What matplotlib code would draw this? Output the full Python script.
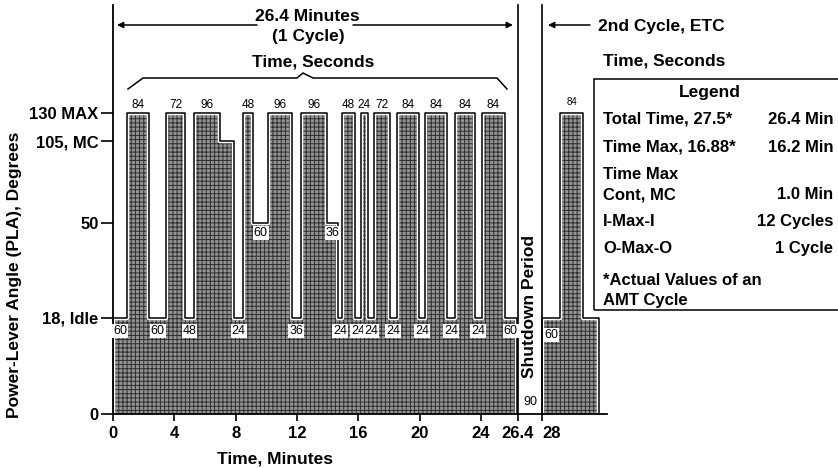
import matplotlib
matplotlib.use('Agg')
import matplotlib.pyplot as plt
from matplotlib.lines import Line2D
from matplotlib.patches import Rectangle
import numpy as np

plt.rcParams['font.family'] = ['Liberation Sans', 'DejaVu Sans']
plt.rcParams['font.weight'] = 'bold'
plt.rcParams['hatch.linewidth'] = 0.7

# first cycle: edge times (min) and PLA level (deg) held from each edge to the next
cycle_t = [0, 0.93, 2.37, 3.46, 4.70, 5.28, 6.98, 7.89, 8.50, 9.15, 10.13, 11.66, 12.24,
           13.94, 14.70, 14.92, 15.79, 16.18, 16.61, 17.03, 18.07, 18.51, 19.98, 20.35,
           21.77, 22.31, 23.61, 24.05, 25.57, 26.33]
cycle_pla = [18, 130, 18, 130, 18, 130, 105, 18, 130, 50, 130, 18, 130, 50, 18, 130, 18,
             130, 18, 130, 18, 130, 18, 130, 18, 130, 18, 130, 18]
# seconds at max (above pulses), at idle (below), at 50 deg
max_sec = [84, 72, 96, 48, 96, 96, 48, 24, 72, 84, 84, 84, 84]
idle_sec = [60, 60, 48, 24, 36, 24, 24, 24, 24, 24, 24, 24, 60]
mid_sec = [60, 36]

# second cycle (start only)
cycle2_t = [28.0, 29.16, 30.68, 31.7]
cycle2_pla = [18, 130, 18]
cycle2_sec = [60, 84]
shutdown = (26.4, 28.0)
shutdown_sec = 90

ytick_vals = [0, 18, 50, 105, 130]
ytick_txt = ['0', '18, Idle', '50', '105, MC', '130 MAX']
xtick_vals = [0, 4, 8, 12, 16, 20, 24, 26.4, 28]
xtick_txt = ['0', '4', '8', '12', '16', '20', '24', '26.4', '28']

legend_rows = [('Total Time, 27.5*', '26.4 Min'),
               ('Time Max, 16.88*', '16.2 Min'),
               ('Time Max', ''),
               ('Cont, MC', '1.0 Min'),
               ('I-Max-I', '12 Cycles'),
               ('O-Max-O', '1 Cycle'),
               ('*Actual Values of an', ''),
               ('AMT Cycle', '')]

# the drawing's PLA axis is not linear, piecewise mapping
deg_nodes = [0, 18, 50, 105, 130, 226]
pos_nodes = [0, 96, 191, 273, 301, 409]
fwd = lambda v: np.interp(v, deg_nodes, pos_nodes)
inv = lambda v: np.interp(v, pos_nodes, deg_nodes)

W, H = 838, 468
def fpx(x, y):
    return x / W, 1 - y / H

def outline(t, lv):
    xs, ys = [t[0]], [0]
    for i, v in enumerate(lv):
        xs += [t[i], t[i + 1]]
        ys += [v, v]
    xs.append(t[-1])
    ys.append(0)
    return xs, ys

fig = plt.figure(figsize=(W / 100, H / 100), dpi=100)
ax = fig.add_axes([113 / W, 54 / H, 493.6 / W, 409 / H])
ax.set_yscale('function', functions=(fwd, inv))
ax.set_xlim(0, 32.2)
ax.set_ylim(0, 226)
for s in ['top', 'right']:
    ax.spines[s].set_visible(False)
for s in ['left', 'bottom']:
    ax.spines[s].set_linewidth(1.3)
ax.set_yticks(ytick_vals)
ax.set_yticklabels(ytick_txt)
ax.set_xticks(xtick_vals)
ax.set_xticklabels(xtick_txt)
ax.yaxis.set_minor_locator(matplotlib.ticker.NullLocator())
ax.tick_params(axis='y', length=9, width=1.2, pad=1.5, labelsize=12)
ax.tick_params(axis='x', length=5, width=1.2, pad=4, labelsize=12)
ax.get_xticklabels()[-1].set_horizontalalignment('left')

for t, lv in [(cycle_t, cycle_pla), (cycle2_t, cycle2_pla)]:
    xs, ys = outline(t, lv)
    ax.fill(xs, ys, facecolor='#939393', edgecolor='#2e2e2e', hatch='++++', lw=0, zorder=1.5)
    ax.plot(xs, ys, color='white', lw=3.2, zorder=2.1)
    ax.plot(xs, ys, color='black', lw=1.1, zorder=3)

# cycle boundaries
for xv in shutdown:
    ax.plot([xv, xv], [0, 226], color='black', lw=1.2, clip_on=False, zorder=3)

lab_box = dict(boxstyle='square,pad=0.08', fc='white', ec='none')
segs = list(zip(cycle_t[:-1], cycle_t[1:], cycle_pla))
maxs = [s for s in segs if s[2] == 130]
idles = [s for s in segs if s[2] == 18]
mids = [s for s in segs if s[2] == 50]
for (a, b, _), v in zip(maxs, max_sec):
    ax.annotate(str(v), ((a + b) / 2, 130), xytext=(0, 3.5), textcoords='offset points',
                ha='center', va='baseline', fontsize=8.5, fontweight='normal')
for (a, b, _), v in zip(idles, idle_sec):
    ax.annotate(str(v), ((a + b) / 2, 18), xytext=(0, -9), textcoords='offset points',
                ha='center', va='center', fontsize=9, fontweight='normal', bbox=lab_box, zorder=5)
for (a, b, _), v in zip(mids, mid_sec):
    ax.annotate(str(v), ((a + b) / 2, 50), xytext=(0, -7), textcoords='offset points',
                ha='center', va='center', fontsize=9, fontweight='normal', bbox=lab_box, zorder=5)
ax.annotate(str(cycle2_sec[0]), ((cycle2_t[0] + cycle2_t[1]) / 2, 18), xytext=(0, -12),
            textcoords='offset points', ha='center', va='center', fontsize=9,
            fontweight='normal', bbox=lab_box, zorder=5)
ax.annotate(str(cycle2_sec[1]), ((cycle2_t[1] + cycle2_t[2]) / 2, 130), xytext=(0, 6),
            textcoords='offset points', ha='center', va='baseline', fontsize=7,
            fontweight='normal')
mid_sd = sum(shutdown) / 2
ax.text(mid_sd, 2.3, str(shutdown_sec), ha='center', va='center', fontsize=9, fontweight='normal')
ax.text(mid_sd, 22, 'Shutdown Period', rotation=90, ha='center', va='center', fontsize=12.5)

# axis titles
fig.text(*fpx(15, 275), 'Power-Lever Angle (PLA), Degrees', rotation=90, ha='center',
         va='center', fontsize=12.5)
fig.text(*fpx(275, 463), 'Time, Minutes', ha='center', va='baseline', fontsize=12.5)

# header over the first cycle
fig.text(*fpx(307, 21), '26.4 Minutes', ha='center', va='baseline', fontsize=12.5)
fig.text(*fpx(308, 41), '(1 Cycle)', ha='center', va='baseline', fontsize=12.5)
fig.text(*fpx(313, 67), 'Time, Seconds', ha='center', va='baseline', fontsize=12.5)
arw = dict(arrowstyle='-|>', color='black', lw=1.1, mutation_scale=9, shrinkA=0, shrinkB=0)
for tail, head in [((257, 25), (117, 25)), ((353, 25), (513, 25)), ((590, 25), (548, 25))]:
    ax.annotate('', xy=fpx(*head), xytext=fpx(*tail), xycoords='figure fraction',
                textcoords='figure fraction', arrowprops=arw, annotation_clip=False)
bx = np.array([128, 143, 297, 303, 313, 497, 507])
by = np.array([89, 78, 78, 73, 78, 78, 89])
fig.add_artist(Line2D(bx / W, 1 - by / H, color='black', lw=1.1))

fig.text(*fpx(598, 31), '2nd Cycle, ETC', ha='left', va='baseline', fontsize=12.5)
fig.text(*fpx(603, 66), 'Time, Seconds', ha='left', va='baseline', fontsize=12.5)

# legend box
fig.add_artist(Rectangle(fpx(594, 310), (860 - 594) / W, (310 - 79) / H,
                         transform=fig.transFigure, fill=False, lw=1.1, color='black'))
fig.text(*fpx(710, 97), 'Legend', ha='center', va='baseline', fontsize=12.5)
row_y = [124, 152, 179, 199, 226, 253, 285, 305]
for (lt, rt), yb in zip(legend_rows, row_y):
    fig.text(*fpx(603, yb), lt, ha='left', va='baseline', fontsize=12)
    if rt:
        fig.text(*fpx(833, yb), rt, ha='right', va='baseline', fontsize=12)

fig.savefig('out.png', dpi=100)
